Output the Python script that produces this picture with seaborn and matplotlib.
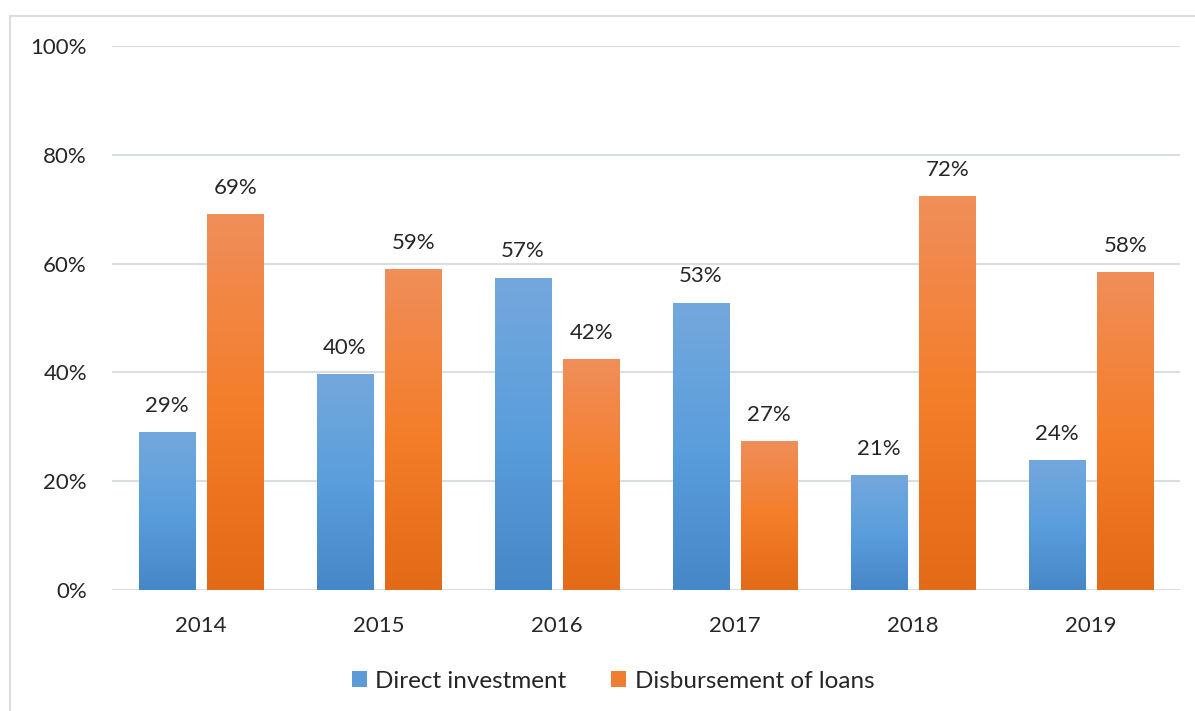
import numpy as np
import pandas as pd
import matplotlib
matplotlib.use("Agg")
import matplotlib.pyplot as plt
import seaborn as sns
from matplotlib.colors import LinearSegmentedColormap
from matplotlib.patches import Rectangle, Patch

years = ["2014", "2015", "2016", "2017", "2018", "2019"]
direct_investment = [29.0, 39.7, 57.4, 52.8, 21.1, 23.9]
loan_disbursement = [69.1, 59.0, 42.4, 27.4, 72.4, 58.4]
series_names = ["Direct investment", "Disbursement of loans"]
yticks = [0, 20, 40, 60, 80, 100]

df = pd.DataFrame({
    "year": years * 2,
    "value": direct_investment + loan_disbursement,
    "series": [series_names[0]] * len(years) + [series_names[1]] * len(years),
})

sns.set_theme(style="white")
plt.rcParams["font.family"] = ["Lato", "DejaVu Sans"]
FS = 16
LFS = 17.5
TXT = "#262626"

fig = plt.figure(figsize=(11.95, 7.11), dpi=100)
ax = fig.add_axes([112 / 1195, 1 - 590 / 711, (1180 - 112) / 1195, (590 - 46) / 711])

base_colors = {series_names[0]: "#5B9BD5", series_names[1]: "#ED7D31"}
sns.barplot(data=df, x="year", y="value", hue="series", palette=base_colors,
            width=0.77, gap=0.18, ax=ax, legend=False, saturation=1)

grads = {
    series_names[0]: LinearSegmentedColormap.from_list("b", ["#4687C7", "#5A9EDD", "#74A8DC"]),
    series_names[1]: LinearSegmentedColormap.from_list("o", ["#E36A16", "#F47E2A", "#F08E5A"]),
}
grad_img = np.linspace(0, 1, 256).reshape(-1, 1)

ax.set_ylim(0, 100)
ax.set_xlim(-0.5, 5.5)
n = len(years)
for i, patch in enumerate(ax.patches):
    s = series_names[0] if i < n else series_names[1]
    x0, y0 = patch.get_x(), patch.get_y()
    w, h = patch.get_width(), patch.get_height()
    patch.set_facecolor("none")
    patch.set_edgecolor("none")
    im = ax.imshow(grad_img, cmap=grads[s], origin="lower", aspect="auto",
                   extent=[x0, x0 + w, y0, y0 + h], zorder=2)
    im.set_clip_path(patch)
    ax.text(x0 + w / 2, h + 3.0, f"{int(round(h))}%", ha="center", va="bottom",
            fontsize=FS, color=TXT)

ax.set_xlim(-0.5, 5.5)
ax.set_ylim(0, 100)
ax.set_yticks(yticks)
ax.set_yticklabels([f"{t}%" for t in yticks], fontsize=FS, color=TXT)
ax.tick_params(axis="x", labelsize=FS, labelcolor=TXT, length=0, pad=19)
ax.tick_params(axis="y", length=0, pad=18)
ax.set_xlabel("")
ax.set_ylabel("")
for sp in ax.spines.values():
    sp.set_visible(False)
ax.yaxis.grid(True, color="#D9DEE5", linewidth=1.5)
ax.set_axisbelow(True)

handles = [Patch(facecolor="#5A9BD8", edgecolor="none"),
           Patch(facecolor="#F07E30", edgecolor="none")]
fig.legend(handles, series_names, loc="center", bbox_to_anchor=(613 / 1195, 1 - 681 / 711),
           ncol=2, frameon=False, fontsize=LFS, handlelength=0.62, handleheight=0.62,
           handletextpad=0.35, columnspacing=1.85, labelcolor=TXT)

fig.patches.append(Rectangle((10 / 1195, -0.1), 1.2, 1 - 16 / 711 + 0.1,
                             transform=fig.transFigure, fill=False,
                             edgecolor="#D9DEE5", linewidth=1.5))

fig.savefig("out.png", dpi=100)
